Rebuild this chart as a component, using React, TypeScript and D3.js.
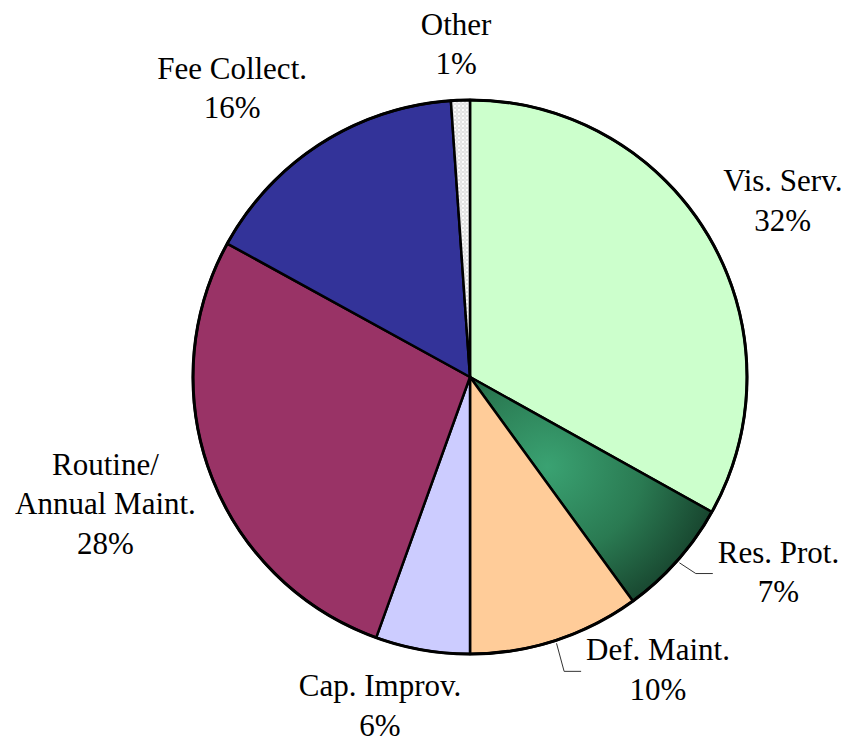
import React, { useEffect, useRef } from "react";
import * as d3 from "d3";

// slice data, clockwise from 12 o'clock
const categories = ["Vis. Serv.", "Res. Prot.", "Def. Maint.", "Cap. Improv.", "Routine/\nAnnual Maint.", "Fee Collect.", "Other"];
const values = [33.1, 6.9, 10.0, 5.5, 27.5, 15.9, 1.1];
const pctLabels = ["32%", "7%", "10%", "6%", "28%", "16%", "1%"];
const fills = ["#CCFFCC", "url(#resGrad)", "#FFCC99", "#CCCCFF", "#993366", "#333399", "url(#otherPat)"];

// label block centres, polar around pie centre (radius px, degrees clockwise from top)
const labelPolar = [
  [359, 60.6],
  [365, 122.3],
  [348, 147.3],
  [341, 195.3],
  [386, 250.8],
  [374, 320.5],
  [333, 357.6],
];
const leaders = [false, true, true, false, false, false, false];

export default function App() {
  const ref = useRef<SVGSVGElement>(null);

  useEffect(() => {
    const cx = 470, cy = 377, R = 277;
    const fontSize = 31, lineH = 39.5, capH = 20.5;

    const svg = d3.select(ref.current);
    svg.selectAll("*").remove();

    const defs = svg.append("defs");
    const grad = defs
      .append("radialGradient")
      .attr("id", "resGrad")
      .attr("cx", 0.32)
      .attr("cy", 0.4)
      .attr("r", 0.72);
    grad.append("stop").attr("offset", "0%").attr("stop-color", "#3aa272");
    grad.append("stop").attr("offset", "55%").attr("stop-color", "#2a7a52");
    grad.append("stop").attr("offset", "100%").attr("stop-color", "#17432d");

    const pat = defs
      .append("pattern")
      .attr("id", "otherPat")
      .attr("patternUnits", "userSpaceOnUse")
      .attr("width", 4)
      .attr("height", 4);
    pat.append("rect").attr("width", 4).attr("height", 4).attr("fill", "#e2e2e2");
    pat.append("circle").attr("cx", 1).attr("cy", 1).attr("r", 1.1).attr("fill", "#ffffff");
    pat.append("circle").attr("cx", 3).attr("cy", 3).attr("r", 0.8).attr("fill", "#f6f6f6");

    const pie = d3
      .pie<number>()
      .sort(null)
      .value((d) => d);
    const arcs = pie(values);
    const arc = d3.arc<d3.PieArcDatum<number>>().innerRadius(0).outerRadius(R);

    const g = svg.append("g").attr("transform", `translate(${cx},${cy})`);

    g.selectAll("path.slice")
      .data(arcs)
      .join("path")
      .attr("class", "slice")
      .attr("d", arc)
      .attr("fill", (_, i) => fills[i])
      .attr("stroke", "#000")
      .attr("stroke-width", 2.5)
      .attr("stroke-linejoin", "round");

    g.append("circle")
      .attr("r", R)
      .attr("fill", "none")
      .attr("stroke", "#000")
      .attr("stroke-width", 3);

    // labels
    const labels = svg
      .append("g")
      .style("font-family", '"Liberation Serif", Tinos, "Times New Roman", serif')
      .style("font-size", fontSize + "px")
      .attr("fill", "#000");

    arcs.forEach((a, i) => {
      const lines = categories[i].split("\n").concat(pctLabels[i]);
      const [lr, deg] = labelPolar[i];
      const t = (deg * Math.PI) / 180;
      const mx = cx + lr * Math.sin(t);
      const my = cy - lr * Math.cos(t);
      const n = lines.length;
      const firstBase = my - ((n - 1) * lineH) / 2 + capH / 2;
      const text = labels.append("text").attr("text-anchor", "middle");
      lines.forEach((ln, k) => {
        text
          .append("tspan")
          .attr("x", mx)
          .attr("y", firstBase + k * lineH)
          .text(ln);
      });

      if (leaders[i]) {
        const tNode = text.select("tspan").node() as SVGTSpanElement;
        const w = tNode.getComputedTextLength();
        const left = mx - w / 2;
        const mid = (a.startAngle + a.endAngle) / 2;
        const sx = cx + (R + 3) * Math.sin(mid);
        const sy = cy - (R + 3) * Math.cos(mid);
        const ly = firstBase + 11;
        svg
          .append("polyline")
          .attr("points", `${sx},${sy} ${left - 22},${ly} ${left - 5},${ly}`)
          .attr("fill", "none")
          .attr("stroke", "#333")
          .attr("stroke-width", 1);
      }
    });
  }, []);

  return (
    <svg
      ref={ref}
      width={849}
      height={744}
      style={{ position: "absolute", left: 0, top: 0, background: "#fff" }}
    />
  );
}
